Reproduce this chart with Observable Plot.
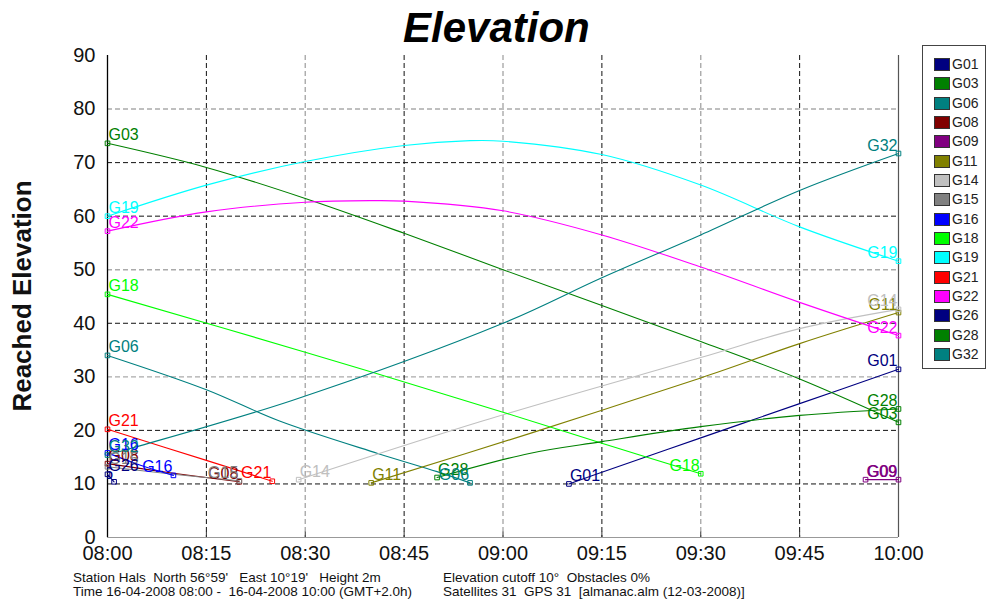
<!DOCTYPE html>
<html>
<head>
<meta charset="utf-8">
<script src="https://cdn.jsdelivr.net/npm/d3@7"></script>
<script src="https://cdn.jsdelivr.net/npm/@observablehq/plot@0.6"></script>
<style>
  body { margin: 0; background: #fff; font-family: "Liberation Sans", Arial, sans-serif; }
  #wrap { position: relative; width: 990px; height: 600px; overflow: hidden; background: #fff; }
  #chart { position: absolute; left: 0; top: 0; }
  #title { position: absolute; left: 403px; top: 4px; font: italic bold 42px "Liberation Sans", Arial, sans-serif; color: #000; white-space: nowrap; }
  #ylabel { position: absolute; left: 22px; top: 296px; transform: translate(-50%, -50%) rotate(-90deg); font: bold 26px "Liberation Sans", Arial, sans-serif; color: #111; white-space: nowrap; }
  #legend { position: absolute; left: 922px; top: 45px; width: 64px; height: 324px; border: 1px solid #444; box-sizing: border-box; }
  .item { position: absolute; left: 11px; height: 14px; font: 14px "Liberation Sans", Arial, sans-serif; color: #222; white-space: nowrap; }
  .sw { position: absolute; left: 0; top: 0; width: 16px; height: 13px; border: 1px solid #333; box-sizing: border-box; }
  .lab { position: absolute; left: 18px; top: -2px; }
  .foot { position: absolute; font: 13.5px "Liberation Sans", Arial, sans-serif; color: #111; white-space: pre; line-height: 14px; }
</style>
</head>
<body>
<div id="wrap">
  <div id="chart"></div>
  <div id="title">Elevation</div>
  <div id="ylabel">Reached Elevation</div>
  <div id="legend"></div>
  <div class="foot" style="left:73px; top:571px;">Station Hals  North 56°59'   East 10°19'   Height 2m
Time 16-04-2008 08:00 -  16-04-2008 10:00 (GMT+2.0h)</div>
  <div class="foot" style="left:443px; top:571px;">Elevation cutoff 10°  Obstacles 0%
Satellites 31  GPS 31  [almanac.alm (12-03-2008)]</div>
</div>
<script>
// Satellites in the almanac view and their plot colours
const sats = ["G01","G03","G06","G08","G09","G11","G14","G15","G16","G18","G19","G21","G22","G26","G28","G32"];
const satColors = ["#000080","#008000","#008080","#800000","#800080","#808000","#c0c0c0","#808080","#0000ff","#00ff00","#00ffff","#ff0000","#ff00ff","#000080","#008000","#008080"];

// Elevation tracks: [local time, elevation in degrees]
const G01 = [["09:10",10.0],["09:15",12.2],["09:30",18.6],["09:45",25.0],["10:00",31.4]];
const G03 = [["08:00",73.6],["08:15",69.1],["08:30",63.3],["08:45",56.8],["09:00",50.0],["09:15",43.3],["09:30",36.6],["09:45",29.6],["10:00",21.5]];
const G06 = [["08:00",34.0],["08:15",27.6],["08:26",21.8],["08:41",15.7],["08:50",12.3],["08:55",10.2]];
const G08 = [["08:00",13.8],["08:10",12.0],["08:20",10.4]];
const G09 = [["09:55",10.8],["10:00",10.8]];
const G11 = [["08:40",10.2],["09:04",19.4],["09:30",29.8],["09:45",36.2],["10:00",42.0]];
const G14 = [["08:29",10.8],["08:57",21.8],["09:30",33.6],["09:45",39.0],["10:00",42.6]];
const G15 = [["08:00",13.2],["08:10",11.8],["08:20",10.6]];
const G16 = [["08:00",15.8],["08:05",13.5],["08:10",11.6]];
const G18 = [["08:00",45.4],["08:30",34.6],["09:00",23.4],["09:15",17.6],["09:30",11.9]];
const G19 = [["08:00",60.0],["08:15",65.8],["08:30",70.2],["08:45",73.2],["08:55",74.1],["09:00",74.0],["09:15",71.5],["09:30",65.8],["09:45",58.0],["10:00",51.6]];
const G21 = [["08:00",20.2],["08:15",14.4],["08:25",10.5]];
const G22 = [["08:00",57.2],["08:15",60.8],["08:30",62.6],["08:40",62.9],["08:45",62.8],["09:00",61.0],["09:15",56.5],["09:30",50.5],["09:45",43.9],["10:00",37.7]];
const G26 = [["08:00",11.8],["08:01",10.4]];
const G28 = [["08:50",11.2],["09:04",15.7],["09:15",17.9],["09:30",20.7],["09:45",22.8],["10:00",24.0]];
const G32 = [["08:00",15.4],["08:04",16.8],["08:28",25.6],["09:00",40.0],["09:15",48.5],["09:30",56.5],["09:45",64.8],["10:00",71.7]];

const tracks = {G01,G03,G06,G08,G09,G11,G14,G15,G16,G18,G19,G21,G22,G26,G28,G32};

// Axis ticks
const timeTicks = ["08:00","08:15","08:30","08:45","09:00","09:15","09:30","09:45","10:00"];
const elevTicks = [0,10,20,30,40,50,60,70,80,90];
const gridDark = [10,20,40,60,70];
const gridLight = [30,50,80];
const vGridDark = ["08:15","08:45","09:15","09:45"];
const vGridLight = ["08:30","09:00","09:30"];

const toMin = s => { const [h, m] = s.split(":").map(Number); return (h - 8) * 60 + m; };
const fmt = m => { const h = 8 + Math.floor(m / 60), mm = m % 60; return String(h).padStart(2,"0") + ":" + String(mm).padStart(2,"0"); };

const rows = [];
const starts = [];
const ends = [];
for (const sat of sats) {
  const pts = tracks[sat].map(([t, e]) => ({sat, t: toMin(t), e}));
  rows.push(...pts);
  starts.push(pts[0]);
  ends.push(pts[pts.length - 1]);
}

const font = "Liberation Sans, Arial, sans-serif";
const chart = Plot.plot({
  width: 990,
  height: 600,
  marginLeft: 107,
  marginRight: 92,
  marginTop: 55,
  marginBottom: 63,
  style: {fontFamily: font, background: "transparent", overflow: "visible"},
  x: {domain: [0, 120], axis: null, label: null},
  y: {domain: [0, 90], axis: null, label: null},
  color: {domain: sats, range: satColors},
  marks: [
    Plot.ruleY(gridLight, {stroke: "#aaa", strokeWidth: 1.4, strokeDasharray: "5,3"}),
    Plot.ruleY(gridDark, {stroke: "#111", strokeWidth: 1, strokeDasharray: "5,3"}),
    Plot.ruleX(vGridLight.map(toMin), {stroke: "#aaa", strokeWidth: 1.4, strokeDasharray: "5,3"}),
    Plot.ruleX(vGridDark.map(toMin), {stroke: "#111", strokeWidth: 1, strokeDasharray: "5,3"}),
    Plot.ruleY([0], {stroke: "#999", strokeWidth: 1.2}),
    Plot.ruleX(timeTicks.map(toMin), {y1: 0, y2: 1, stroke: "#333"}),
    Plot.ruleX([120], {stroke: "#555", strokeWidth: 1.2}),
    Plot.ruleX([0], {stroke: "#000", strokeWidth: 1.3}),
    Plot.axisY(elevTicks, {label: null, tickSize: 0, tickPadding: 12, fontSize: 20, fill: "#111"}),
    Plot.axisX(timeTicks.map(toMin), {label: null, tickSize: 0, tickPadding: 8, fontSize: 20, fill: "#111", tickFormat: fmt}),
    Plot.line(rows, {x: "t", y: "e", z: "sat", stroke: "sat", strokeWidth: 1.1, curve: "catmull-rom"}),
    Plot.dot([...starts, ...ends], {x: "t", y: "e", stroke: "sat", symbol: "square", r: 2.6, strokeWidth: 1, fill: "none"}),
    Plot.text(starts, {x: "t", y: "e", text: "sat", fill: "sat", textAnchor: "start", lineAnchor: "bottom", dx: 1, dy: -3, fontSize: 16}),
    Plot.text(ends, {x: "t", y: "e", text: "sat", fill: "sat", textAnchor: "end", lineAnchor: "bottom", dx: -1, dy: -3, fontSize: 16, clip: true})
  ]
});
document.getElementById("chart").appendChild(chart);

// Legend list
const legend = document.getElementById("legend");
sats.forEach((sat, i) => {
  const item = document.createElement("div");
  item.className = "item";
  item.style.top = (12 + i * 19.33) + "px";
  const sw = document.createElement("div");
  sw.className = "sw";
  sw.style.background = satColors[i];
  const lab = document.createElement("div");
  lab.className = "lab";
  lab.textContent = sat;
  item.append(sw, lab);
  legend.appendChild(item);
});
</script>
</body>
</html>
